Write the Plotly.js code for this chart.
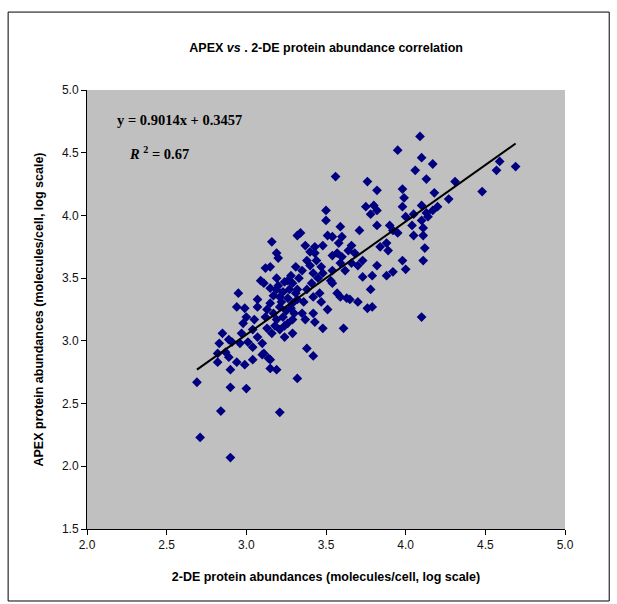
<!DOCTYPE html>
<html>
<head>
<meta charset="utf-8">
<script src="https://cdn.plot.ly/plotly-3.0.1.min.js"></script>
<style>html,body{margin:0;padding:0;background:#fff;}#chart{width:617px;height:604px;}</style>
</head>
<body>
<div id="chart"></div>
<script>
// 2-DE abundance (x, log10 molecules/cell)
const deX = [
4.09,3.95,4.10,4.17,4.06,4.13,3.56,3.76,3.82,3.98,4.18,3.99,3.75,3.80,3.82,3.78,3.50,3.50,3.98,4.10,
4.20,3.82,3.90,4.00,4.04,4.10,4.13,3.71,3.59,3.34,3.32,3.37,3.51,3.54,3.60,3.43,3.48,3.92,3.95,4.05,
4.11,4.12,4.11,3.88,3.84,3.89,3.66,3.68,3.73,3.73,3.79,3.82,3.88,3.92,3.98,4.00,3.78,3.60,3.57,3.59,
3.54,3.43,3.40,3.38,3.44,3.47,3.31,3.42,3.48,3.54,3.53,3.41,3.38,3.32,3.31,3.46,3.47,3.42,3.57,3.59,
3.63,3.65,3.70,3.54,3.51,3.36,3.35,3.42,3.43,3.37,3.48,3.61,3.76,3.79,4.10,3.29,3.29,3.29,
4.31,4.27,4.48,4.59,4.57,4.69,4.17,4.14,4.11,4.05,
3.38,3.42,
3.16,3.19,3.20,3.12,3.15,3.09,3.11,3.19,3.24,3.26,2.95,3.15,3.19,3.23,3.27,2.94,2.99,3.07,3.07,3.15,
3.21,3.26,3.29,3.32,3.00,2.98,3.05,3.12,3.17,3.19,3.23,3.26,2.85,2.97,3.04,3.07,3.13,3.16,3.21,3.24,
2.83,2.91,2.96,3.01,3.04,3.10,3.11,2.87,2.89,2.82,2.94,2.99,3.04,3.15,2.90,3.15,3.19,3.32,2.69,2.90,
3.00,3.21,
2.71,2.90,2.84,3.21,3.10,3.14,2.89,2.82,
3.17,3.22,3.25,3.28,3.18,3.24,3.30,3.13,3.20,3.28,3.33,3.35,3.45,3.40,3.62,3.66,3.70,3.58,3.64
];
// APEX abundance (y, log10 molecules/cell)
const apexY = [
4.63,4.52,4.46,4.41,4.36,4.29,4.31,4.27,4.20,4.21,4.18,4.14,4.07,4.08,4.04,4.01,4.04,3.96,4.07,4.08,
4.07,3.92,3.92,3.99,3.92,3.96,4.02,3.88,3.91,3.86,3.84,3.76,3.84,3.83,3.83,3.75,3.76,3.88,3.86,3.84,
3.84,3.74,3.64,3.78,3.75,3.72,3.76,3.70,3.64,3.51,3.52,3.60,3.52,3.55,3.64,3.57,3.41,3.67,3.70,3.62,
3.68,3.70,3.71,3.64,3.64,3.59,3.59,3.54,3.54,3.56,3.48,3.46,3.41,3.41,3.38,3.38,3.31,3.35,3.38,3.35,
3.34,3.33,3.31,3.46,3.25,3.31,3.22,3.22,3.15,3.17,3.10,3.10,3.26,3.27,3.19,3.17,3.06,3.46,
4.27,4.13,4.19,4.43,4.36,4.39,4.04,3.99,3.90,4.01,
2.94,2.88,
3.79,3.70,3.66,3.58,3.59,3.48,3.46,3.50,3.47,3.48,3.38,3.42,3.41,3.39,3.41,3.27,3.26,3.33,3.27,3.30,
3.35,3.34,3.30,3.33,3.19,3.14,3.17,3.19,3.22,3.17,3.19,3.14,3.06,3.06,3.09,3.03,3.10,3.06,3.09,3.03,
2.98,2.99,2.98,2.99,2.95,2.98,2.90,2.91,2.87,2.83,2.83,2.81,2.85,2.85,2.77,2.78,2.77,2.70,2.67,2.63,
2.62,3.27,
2.23,2.07,2.44,2.43,2.89,2.86,3.01,2.90,
3.36,3.31,3.24,3.26,3.12,3.12,3.22,3.25,3.44,3.52,3.50,3.56,3.50,3.60,3.56,3.62,3.60,3.78,3.72
];
// Linear fit shown on the chart
const fitSlope = 0.9014;
const fitIntercept = 0.3457;
const fitXRange = [2.69, 4.69];
const fitY = fitXRange.map(x => fitSlope * x + fitIntercept);

const xTicks = [2.0, 2.5, 3.0, 3.5, 4.0, 4.5, 5.0];
const yTicks = [1.5, 2.0, 2.5, 3.0, 3.5, 4.0, 4.5, 5.0];

const traces = [
  {
    x: deX, y: apexY, type: 'scatter', mode: 'markers',
    marker: {symbol: 'diamond', size: 7.5, color: '#000080', line: {width: 0}},
    hoverinfo: 'x+y', showlegend: false
  },
  {
    x: fitXRange, y: fitY, type: 'scatter', mode: 'lines',
    line: {color: '#000000', width: 2}, showlegend: false
  }
];

const axisFont = {family: 'Liberation Sans, Arial, sans-serif', size: 12, color: '#111'};
const titleFont = {family: 'Liberation Sans, Arial, sans-serif', size: 12.5, color: '#000'};
const layout = {
  width: 617, height: 604,
  margin: {l: 87, r: 52, t: 90, b: 75},
  paper_bgcolor: '#ffffff',
  plot_bgcolor: '#c0c0c0',
  showlegend: false,
  title: {
    text: '<b>APEX <i>vs</i> . 2-DE protein abundance correlation</b>',
    font: titleFont,
    x: 0.5286, xanchor: 'center', y: 0.921, yanchor: 'middle'
  },
  xaxis: {
    range: [2, 5], tickvals: xTicks, tickformat: '.1f',
    showgrid: false, zeroline: false, showline: true, linecolor: '#000', linewidth: 1,
    ticks: 'outside', ticklen: 5, tickcolor: '#000', tickfont: axisFont,
    mirror: false, fixedrange: true,
    title: {text: '<b>2-DE protein abundances (molecules/cell, log scale)</b>',
            font: titleFont, standoff: 20}
  },
  yaxis: {
    range: [1.5, 5], tickvals: yTicks, tickformat: '.1f',
    showgrid: false, zeroline: false, showline: true, linecolor: '#000', linewidth: 1,
    ticks: 'outside', ticklen: 5, tickcolor: '#000', tickfont: axisFont,
    fixedrange: true,
    title: {text: '<b>APEX protein abundances (molecules/cell, log scale)</b>',
            font: titleFont, standoff: 15}
  },
  annotations: [
    {xref: 'paper', yref: 'paper', x: 0.058, y: 0.931, xanchor: 'left', yanchor: 'middle',
     text: '<b>y = 0.9014x + 0.3457</b>', showarrow: false,
     font: {family: 'Liberation Serif, Times New Roman, serif', size: 14.5, color: '#000'}},
    {xref: 'paper', yref: 'paper', x: 0.083, y: 0.856, xanchor: 'left', yanchor: 'middle',
     text: '<b><i>R</i> <sup>2</sup> = 0.67</b>', showarrow: false,
     font: {family: 'Liberation Serif, Times New Roman, serif', size: 14.5, color: '#000'}}
  ],
  shapes: [
    {type: 'rect', xref: 'paper', yref: 'paper',
     x0: -0.165, x1: 1.0925, y0: -0.164, y1: 1.1775,
     line: {color: '#000', width: 1}, fillcolor: 'rgba(0,0,0,0)', layer: 'below'}
  ]
};

Plotly.newPlot('chart', traces, layout, {displayModeBar: false, staticPlot: true});
</script>
</body>
</html>
